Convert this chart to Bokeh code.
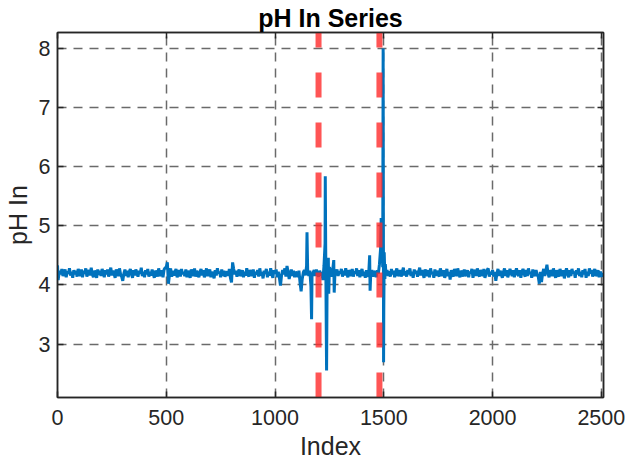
from bokeh.plotting import figure
from bokeh.models import FixedTicker, LinearAxis
from bokeh.embed import file_html
from bokeh.resources import INLINE

# ---- data ----
step = 5
base_ph = [
    4.33, 4.14, 4.24, 4.18, 4.27, 4.15, 4.22, 4.26, 4.13, 4.23, 4.19, 4.28, 4.16, 4.22, 4.12, 4.25, 4.18, 4.24, 4.14, 4.27,
    4.22, 4.15, 4.26, 4.13, 4.24, 4.19, 4.28, 4.14, 4.21, 4.25, 4.16, 4.29, 4.18, 4.13, 4.24, 4.20, 4.12, 4.26, 4.17, 4.24,
    4.15, 4.27, 4.21, 4.13, 4.25, 4.18, 4.26, 4.14, 4.22, 4.29, 4.16, 4.24, 4.19, 4.12, 4.26, 4.21, 4.15, 4.28, 4.18, 4.14,
    4.07, 4.19, 4.26, 4.15, 4.24, 4.13, 4.22, 4.27, 4.18, 4.12, 4.25, 4.16, 4.26, 4.21, 4.14, 4.24, 4.19, 4.29, 4.15, 4.22,
    4.13, 4.25, 4.18, 4.27, 4.14, 4.22, 4.16, 4.26, 4.19, 4.12, 4.24, 4.21, 4.14, 4.28, 4.18, 4.15, 4.25, 4.13, 4.26, 4.29,
    4.30, 4.38, 4.02, 4.18, 4.28, 4.14, 4.24, 4.16, 4.22, 4.27, 4.13, 4.19, 4.25, 4.14, 4.27, 4.18, 4.22, 4.15, 4.26, 4.13,
    4.24, 4.18, 4.12, 4.26, 4.21, 4.15, 4.28, 4.14, 4.24, 4.19, 4.13, 4.22, 4.27, 4.16, 4.25, 4.13, 4.19, 4.28, 4.15, 4.22,
    4.26, 4.13, 4.22, 4.18, 4.11, 4.25, 4.16, 4.28, 4.19, 4.22, 4.13, 4.26, 4.15, 4.24, 4.14, 4.19, 4.23, 4.15, 4.27, 4.12,
    4.04, 4.38, 4.27, 4.18, 4.24, 4.14, 4.22, 4.26, 4.15, 4.19, 4.25, 4.13, 4.22, 4.16, 4.28, 4.18, 4.14, 4.25, 4.21, 4.15,
    4.26, 4.12, 4.22, 4.18, 4.25, 4.14, 4.28, 4.16, 4.22, 4.11, 4.24, 4.19, 4.27, 4.13, 4.22, 4.16, 4.28, 4.18, 4.12, 4.25,
    4.19, 4.26, 4.13, 4.22, 4.12, 3.99, 4.16, 4.25, 4.18, 4.28, 4.14, 4.32, 4.22, 4.10, 4.19, 4.26, 4.15, 4.24, 4.13, 4.22,
    4.20, 4.13, 4.24, 4.04, 3.89, 4.10, 4.21, 4.25, 4.16, 4.32, 4.26, 4.15, 4.24, 3.98, 4.14, 4.21, 4.25, 4.15, 4.26, 4.19,
    4.14, 4.24, 4.16, 4.22, 4.08, 4.32, 4.70, 3.50, 4.05, 4.46, 4.30, 4.24, 4.14, 4.25, 4.42, 4.16, 4.22, 4.26, 4.15, 4.23,
    4.19, 4.27, 4.14, 4.24, 4.16, 4.28, 4.19, 4.13, 4.25, 4.21, 4.15, 4.27, 4.14, 4.23, 4.19, 4.28, 4.15, 4.25, 4.13, 4.22,
    4.27, 4.15, 4.22, 4.12, 4.25, 4.18, 4.14, 4.50, 4.19, 4.25, 4.14, 4.21, 4.23, 4.13, 4.25, 4.19, 4.35, 4.60, 4.90, 4.30,
    3.60, 4.10, 4.19, 4.25, 4.15, 4.23, 4.14, 4.27, 4.18, 4.24, 4.13, 4.22, 4.28, 4.15, 4.19, 4.25, 4.14, 4.22, 4.29, 4.16,
    4.23, 4.14, 4.25, 4.18, 4.28, 4.15, 4.22, 4.12, 4.26, 4.19, 4.24, 4.14, 4.22, 4.29, 4.16, 4.25, 4.19, 4.12, 4.26, 4.21,
    4.15, 4.25, 4.13, 4.28, 4.18, 4.22, 4.12, 4.26, 4.15, 4.24, 4.19, 4.14, 4.28, 4.21, 4.15, 4.25, 4.12, 4.19, 4.27, 4.15,
    4.22, 4.09, 4.25, 4.18, 4.14, 4.27, 4.21, 4.15, 4.28, 4.19, 4.13, 4.24, 4.21, 4.14, 4.26, 4.18, 4.15, 4.25, 4.13, 4.22,
    4.19, 4.27, 4.12, 4.22, 4.25, 4.15, 4.28, 4.18, 4.14, 4.25, 4.21, 4.15, 4.27, 4.12, 4.19, 4.25, 4.28, 4.14, 4.22, 4.18,
    4.25, 4.14, 4.22, 4.07, 4.19, 4.27, 4.15, 4.24, 4.18, 4.12, 4.22, 4.28, 4.15, 4.25, 4.13, 4.19, 4.27, 4.21, 4.15, 4.25,
    4.13, 4.22, 4.28, 4.18, 4.15, 4.25, 4.12, 4.22, 4.27, 4.19, 4.14, 4.25, 4.15, 4.28, 4.18, 4.22, 4.12, 4.26, 4.19, 4.15,
    4.25, 4.18, 4.14, 4.02, 4.22, 4.05, 4.19, 4.27, 4.15, 4.24, 4.34, 4.19, 4.13, 4.25, 4.21, 4.15, 4.28, 4.18, 4.12, 4.25,
    4.19, 4.14, 4.27, 4.21, 4.15, 4.25, 4.11, 4.22, 4.28, 4.18, 4.13, 4.25, 4.15, 4.27, 4.19, 4.22, 4.12, 4.25, 4.18, 4.28,
    4.15, 4.22, 4.13, 4.25, 4.18, 4.27, 4.12, 4.22, 4.15, 4.28, 4.19, 4.25, 4.14, 4.22, 4.27, 4.15, 4.19, 4.25, 4.13, 4.22,
    4.19, 4.14, 4.20,
]
# extra samples between the 5-step grid (spikes)
spike_index = [3, 1147, 1168, 1231, 1233, 1237, 1239, 1247, 1272, 1437, 1488, 1497, 1499, 1502, 1507]
spike_ph = [4.08, 4.89, 3.42, 5.84, 4.60, 2.55, 3.80, 3.85, 3.87, 3.90, 5.13, 8.00, 2.69, 4.55, 4.35]

change_points = [1200, 1480]

x_ticks = [0, 500, 1000, 1500, 2000, 2500]
y_ticks = [3, 4, 5, 6, 7, 8]

# ---- merge samples ----
pts = {i * step: v for i, v in enumerate(base_ph)}
for i, v in zip(spike_index, spike_ph):
    pts[i] = v
xs = sorted(pts)
ys = [pts[k] for k in xs]

FONT = "Liberation Sans"
Y0, Y1 = 2.095, 8.27

p = figure(width=625, height=463, x_range=(0, 2510), y_range=(Y0, Y1),
           output_backend="svg", toolbar_location=None,
           min_border_left=57, min_border_right=22, min_border_top=32, min_border_bottom=66)

p.line(xs, ys, line_color="#0072BD", line_width=3)

for cp in change_points:
    p.segment(x0=[cp], y0=[Y0], x1=[cp], y1=[Y1], line_color="#ff2a2a",
              line_alpha=0.8, line_width=6, line_dash="25 25")

p.title.text = "pH In Series"
p.title.align = "center"
p.title.text_font = FONT
p.title.text_font_size = "25px"
p.title.text_font_style = "bold"
p.title.text_color = "black"
p.title.standoff = 2

p.outline_line_color = "#262626"
p.outline_line_width = 1.5
p.outline_line_alpha = 1

for ax, ticks in ((p.xaxis[0], x_ticks), (p.yaxis[0], y_ticks)):
    ax.ticker = FixedTicker(ticks=ticks)
    ax.major_tick_in = 6
    ax.major_tick_out = 0
    ax.minor_tick_in = 0
    ax.minor_tick_out = 0
    ax.major_tick_line_color = "#262626"
    ax.major_tick_line_width = 1.5
    ax.axis_line_color = "#262626"
    ax.axis_line_width = 1.5
    ax.major_label_text_font = FONT
    ax.major_label_text_font_size = "21.5px"
    ax.major_label_text_color = "#262626"
    ax.axis_label_text_font = FONT
    ax.axis_label_text_font_size = "25px"
    ax.axis_label_text_font_style = "normal"
    ax.axis_label_text_color = "#262626"

p.xaxis.axis_label = "Index"
p.yaxis.axis_label = "pH In"
p.xaxis.major_label_standoff = 12
p.xaxis.axis_label_standoff = 4
p.yaxis.major_label_standoff = 7
p.yaxis.axis_label_standoff = 4

for loc, ticks in (("above", x_ticks), ("right", y_ticks)):
    ax = LinearAxis(ticker=FixedTicker(ticks=ticks),
                    major_label_overrides={t: "" for t in ticks},
                    major_tick_in=6, major_tick_out=0, minor_tick_in=0, minor_tick_out=0,
                    major_tick_line_color="#262626", major_tick_line_width=1.5,
                    axis_line_color="#262626", axis_line_width=1.5,
                    major_label_standoff=0)
    p.add_layout(ax, loc)

for g in (p.xgrid[0], p.ygrid[0]):
    g.grid_line_color = "#6a6a6a"
    g.grid_line_width = 1.5
    g.grid_line_dash = "9 7"
    g.grid_line_alpha = 1
p.xgrid[0].ticker = FixedTicker(ticks=x_ticks)
p.ygrid[0].ticker = FixedTicker(ticks=y_ticks)

open("out.html", "w").write(file_html(p, INLINE))
